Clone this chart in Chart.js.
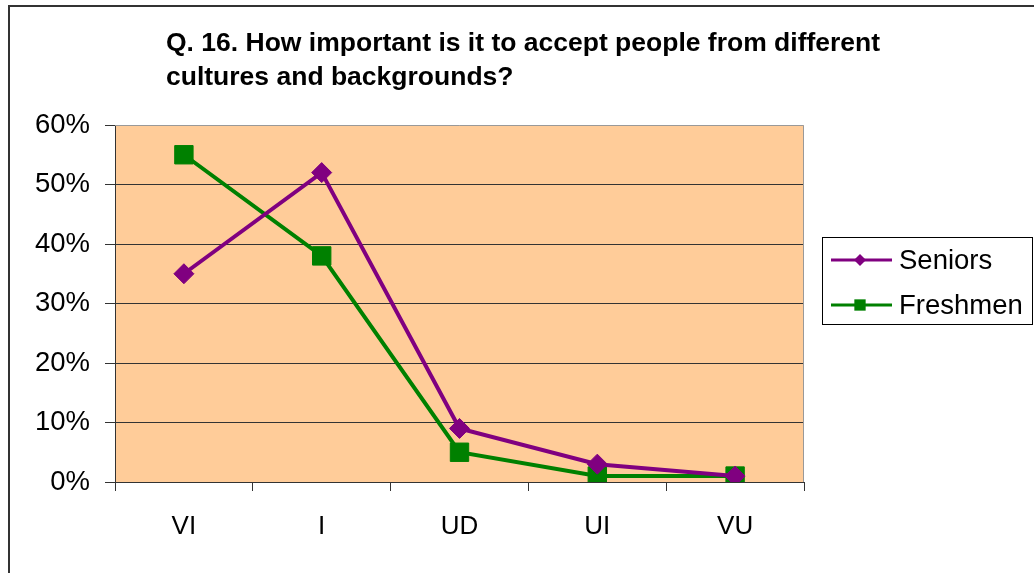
<!DOCTYPE html>
<html>
<head>
<meta charset="utf-8">
<script src="https://cdn.jsdelivr.net/npm/chart.js@4"></script>
<style>
  html, body { margin: 0; padding: 0; background: #fff; }
  #wrap { position: relative; width: 1034px; height: 573px; overflow: hidden; }
  #frame { position: absolute; left: 8px; top: 5px; width: 1100px; height: 700px;
           border-top: 2px solid #333; border-left: 2px solid #333; }
  canvas { position: absolute; left: 0; top: 0; }
</style>
</head>
<body>
<div id="wrap">
  <div id="frame"></div>
  <canvas id="chart" width="1034" height="573"></canvas>
</div>
<script>
const categories = ['VI', 'I', 'UD', 'UI', 'VU'];
const seniors = [35, 52, 9, 3, 1];
const freshmen = [55, 38, 5, 1, 1];
const titleLines = ['Q. 16. How important is it to accept people from different',
                    'cultures and backgrounds?'];

const FONT = 'Arial, "Liberation Sans", sans-serif';

// plot background
const plotBg = {
  id: 'plotBg',
  beforeDraw(chart) {
    const { ctx, chartArea: a } = chart;
    ctx.save();
    ctx.fillStyle = '#FFCC99';
    ctx.fillRect(a.left, a.top, a.right - a.left, a.bottom - a.top);
    ctx.restore();
  }
};

// grey border on top / right of plot
const plotBorder = {
  id: 'plotBorder',
  beforeDatasetsDraw(chart) {
    const { ctx, chartArea: a } = chart;
    ctx.save();
    ctx.strokeStyle = '#999';
    ctx.lineWidth = 1;
    ctx.beginPath();
    ctx.moveTo(a.left, a.top + 0.5);
    ctx.lineTo(a.right - 0.5, a.top + 0.5);
    ctx.lineTo(a.right - 0.5, a.bottom);
    ctx.stroke();
    ctx.restore();
  }
};

// title, left aligned like the original
const titleText = {
  id: 'titleText',
  afterDraw(chart) {
    const ctx = chart.ctx;
    ctx.save();
    ctx.fillStyle = '#000';
    ctx.font = 'bold 26.5px ' + FONT;
    ctx.textBaseline = 'middle';
    ctx.fillText(titleLines[0], 166, 44);
    ctx.fillText(titleLines[1], 166, 78);
    ctx.restore();
  }
};

// boxed legend with line + marker
const boxLegend = {
  id: 'boxLegend',
  afterDraw(chart) {
    const ctx = chart.ctx;
    ctx.save();
    ctx.strokeStyle = '#000';
    ctx.lineWidth = 1;
    ctx.strokeRect(822.5, 237.5, 210, 87);
    ctx.font = '27.5px ' + FONT;
    ctx.textBaseline = 'middle';
    chart.data.datasets.forEach((ds, i) => {
      const y = 260 + i * 45;
      ctx.strokeStyle = ds.borderColor;
      ctx.lineWidth = 3;
      ctx.beginPath();
      ctx.moveTo(831, y);
      ctx.lineTo(892, y);
      ctx.stroke();
      ctx.fillStyle = ds.backgroundColor;
      Chart.helpers.drawPoint(ctx, {
        pointStyle: ds.pointStyle, rotation: 0, borderWidth: 0,
        radius: ds.pointStyle === 'rect' ? 8 : 6
      }, 860, y);
      ctx.fillStyle = '#000';
      ctx.fillText(ds.label, 899, y + 1);
    });
    ctx.restore();
  }
};

new Chart(document.getElementById('chart'), {
  type: 'line',
  data: {
    labels: categories,
    datasets: [
      {
        label: 'Seniors',
        data: seniors,
        borderColor: '#800080',
        backgroundColor: '#800080',
        borderWidth: 4,
        pointStyle: 'rectRot',
        pointRadius: 10,
        pointHoverRadius: 10,
        pointBorderWidth: 1,
        tension: 0
      },
      {
        label: 'Freshmen',
        data: freshmen,
        borderColor: '#008000',
        backgroundColor: '#008000',
        borderWidth: 4,
        pointStyle: 'rect',
        pointRadius: 13,
        pointHoverRadius: 13,
        pointBorderWidth: 1,
        tension: 0
      }
    ]
  },
  options: {
    responsive: false,
    animation: false,
    events: [],
    layout: { padding: { top: 125, right: 230, left: 0, bottom: 0 } },
    plugins: {
      legend: { display: false },
      title: { display: false },
      tooltip: { enabled: false }
    },
    scales: {
      x: {
        offset: true,
        grid: { offset: true, drawOnChartArea: false, color: '#333', tickLength: 9, tickWidth: 1 },
        border: { color: '#333', width: 1 },
        ticks: { color: '#000', font: { family: FONT, size: 26 }, padding: 20 },
        afterFit(scale) { scale.height = 91; }
      },
      y: {
        min: 0,
        max: 60,
        grid: { color: ctx => ctx.tick && ctx.tick.value === 60 ? 'rgba(0,0,0,0)' : '#333', tickLength: 10,
                tickColor: '#333' },
        border: { color: '#333', width: 1 },
        ticks: { stepSize: 10, color: '#000', font: { family: FONT, size: 27.5 }, padding: 15,
                 callback: v => v + '%' },
        afterFit(scale) { scale.width = 115; }
      }
    }
  },
  plugins: [plotBg, plotBorder, titleText, boxLegend]
});
</script>
</body>
</html>
